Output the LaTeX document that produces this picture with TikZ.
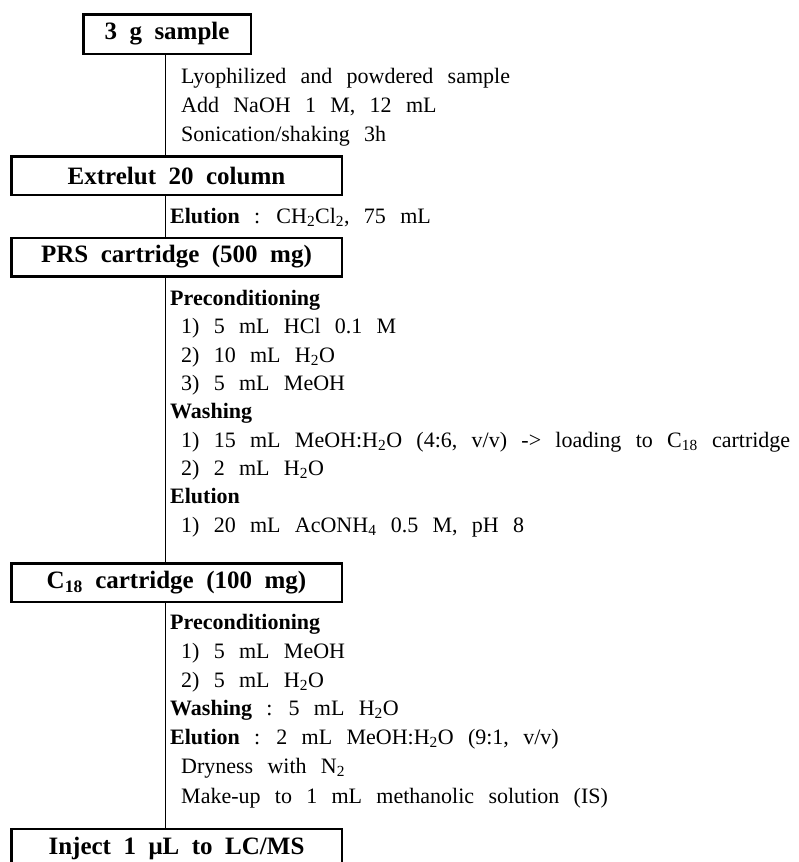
\documentclass[tikz,border=0pt]{standalone}
\usepackage{fontspec}
\setmainfont{Liberation Serif}
\newcommand{\dn}[1]{\textsubscript{#1}}
\newcommand{\stagefont}{\fontsize{25}{30}\selectfont\bfseries\spaceskip=0.5em\relax}
\newcommand{\notefont}{\fontsize{22}{26}\selectfont\spaceskip=0.65em\relax}
\tikzset{stage/.style = {draw, fill=white, line width=2.5pt, rectangle, inner sep=0pt, minimum height=38.5pt, minimum width=330.5pt, font=\stagefont},
         note/.style = {anchor=base west, inner sep=0pt, font=\notefont},
         link/.style = {draw, line width=1pt}}

\begin{document}
\begin{tikzpicture}[x=1pt,y=-1pt]
        \useasboundingbox(0,0)rectangle(798,862);
        \coordinate(axis)at(165,0);
        \node[stage,minimum width=167.5pt,minimum height=39.5pt](smp)at(167,34){3 g sample};
        \node[stage](ext)at(176.5,175.5){Extrelut 20 column};
        \node[stage](prs)at(176.5,257){PRS cartridge (500 mg)};
        \node[stage](cto)at(176.5,582.5){C\dn{18} cartridge (100 mg)};
        \node[stage](inj)at(176.5,848){Inject 1 μL to LC/MS};
        \draw[link](smp.south-|axis)--(ext.north-|axis);
        \draw[link](ext.south-|axis)--(prs.north-|axis);
        \draw[link](prs.south-|axis)--(cto.north-|axis);
        \draw[link](cto.south-|axis)--(inj.north-|axis);
        \node[note](a1)at(181,83){Lyophilized and powdered sample};
        \node[note](a2)at(181,112){Add NaOH 1 M, 12 mL};
        \node[note](a3)at(181,141){Sonication/shaking 3h};
        \node[note](b1)at(170,223){\textbf{Elution} : CH\dn{2}Cl\dn{2}, 75 mL};
        \node[note](c1)at(170,305){\textbf{Preconditioning}};
        \node[note](c2)at(181,333){1) 5 mL HCl 0.1 M};
        \node[note](c3)at(181,362){2) 10 mL H\dn{2}O};
        \node[note](c4)at(181,390){3) 5 mL MeOH};
        \node[note](c5)at(170,418){\textbf{Washing}};
        \node[note](c6)at(181,447){1) 15 mL MeOH:H\dn{2}O (4:6, v/v) -> loading to C\dn{18} cartridge};
        \node[note](c7)at(181,475){2) 2 mL H\dn{2}O};
        \node[note](c8)at(170,503){\textbf{Elution}};
        \node[note](c9)at(181,532){1) 20 mL AcONH\dn{4} 0.5 M, pH 8};
        \node[note](d1)at(170,629){\textbf{Preconditioning}};
        \node[note](d2)at(181,658){1) 5 mL MeOH};
        \node[note](d3)at(181,687){2) 5 mL H\dn{2}O};
        \node[note](d4)at(170,715){\textbf{Washing} : 5 mL H\dn{2}O};
        \node[note](d5)at(170,744){\textbf{Elution} : 2 mL MeOH:H\dn{2}O (9:1, v/v)};
        \node[note](d6)at(181,773){Dryness with N\dn{2}};
        \node[note](d7)at(181,803){Make-up to 1 mL methanolic solution (IS)};
    \end{tikzpicture}
\end{document}
